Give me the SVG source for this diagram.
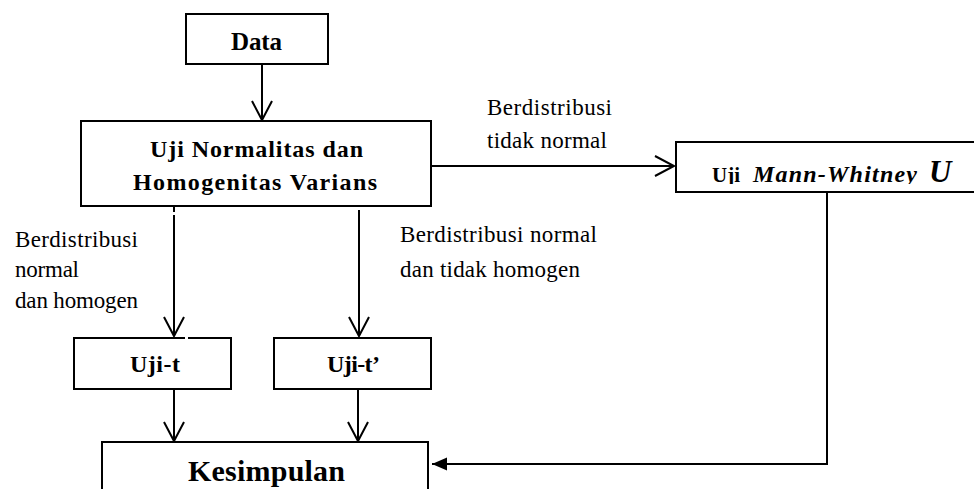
<svg xmlns="http://www.w3.org/2000/svg" width="974" height="489" viewBox="0 0 974 489">
<style>
.box{fill:#fff;stroke:#000;stroke-width:2}
.ln{fill:none;stroke:#000;stroke-width:2}
</style>
<defs>
<marker id="open" markerUnits="userSpaceOnUse" markerWidth="30" markerHeight="30" viewBox="-25 -15 30 30" refX="0" refY="0" orient="auto" overflow="visible">
<path d="M-19,-10 L0,0 L-19,10" fill="none" stroke="#000" stroke-width="2"/>
</marker>
<marker id="fill" markerUnits="userSpaceOnUse" markerWidth="20" markerHeight="20" viewBox="-18 -10 20 20" refX="0" refY="0" orient="auto" overflow="visible">
<path d="M-15,-6.5 L0,0 L-15,6.5 Z" fill="#000"/>
</marker>
<clipPath id="mwclip"><rect x="677" y="143" width="300" height="41"/></clipPath>
</defs>

<g id="connectors">
<line class="ln" x1="262" y1="64" x2="262" y2="120" marker-end="url(#open)"/>
<line class="ln" x1="431" y1="166" x2="674" y2="166" marker-end="url(#open)"/>
<line class="ln" x1="174" y1="207" x2="174" y2="212"/>
<line class="ln" x1="174" y1="215" x2="174" y2="336" marker-end="url(#open)"/>
<line class="ln" x1="359" y1="210" x2="359" y2="336" marker-end="url(#open)"/>
<line class="ln" x1="174" y1="389" x2="174" y2="441" marker-end="url(#open)"/>
<line class="ln" x1="358" y1="389" x2="358" y2="441" marker-end="url(#open)"/>
<polyline class="ln" points="827,192 827,464 432,464" marker-end="url(#fill)"/>
</g>

<g id="labels" fill="#000">
<text font-family="Times New Roman, Liberation Serif, serif" style="font-family:'Times New Roman','Liberation Serif',serif" font-size="23" x="487" y="115" textLength="125" lengthAdjust="spacing">Berdistribusi</text>
<text font-family="Times New Roman, Liberation Serif, serif" style="font-family:'Times New Roman','Liberation Serif',serif" font-size="23" x="487" y="148" textLength="120" lengthAdjust="spacing">tidak normal</text>
<text font-family="Times New Roman, Liberation Serif, serif" style="font-family:'Times New Roman','Liberation Serif',serif" font-size="23" x="15" y="247" textLength="123" lengthAdjust="spacing">Berdistribusi</text>
<text font-family="Times New Roman, Liberation Serif, serif" style="font-family:'Times New Roman','Liberation Serif',serif" font-size="23" x="15" y="277" textLength="64" lengthAdjust="spacing">normal</text>
<text font-family="Times New Roman, Liberation Serif, serif" style="font-family:'Times New Roman','Liberation Serif',serif" font-size="23" x="15" y="308" textLength="123" lengthAdjust="spacing">dan homogen</text>
<text font-family="Times New Roman, Liberation Serif, serif" style="font-family:'Times New Roman','Liberation Serif',serif" font-size="23" x="400" y="242" textLength="197" lengthAdjust="spacing">Berdistribusi normal</text>
<text font-family="Times New Roman, Liberation Serif, serif" style="font-family:'Times New Roman','Liberation Serif',serif" font-size="23" x="400" y="277" textLength="180" lengthAdjust="spacing">dan tidak homogen</text>
</g>

<g id="data">
<rect class="box" x="186" y="14" width="142" height="50"/>
<text font-family="Times New Roman, Liberation Serif, serif" style="font-family:'Times New Roman','Liberation Serif',serif" font-weight="bold" font-size="25" x="231" y="50" textLength="51" lengthAdjust="spacing">Data</text>
</g>

<g id="uji-normalitas">
<rect class="box" x="81" y="121" width="350" height="85"/>
<text font-family="Times New Roman, Liberation Serif, serif" style="font-family:'Times New Roman','Liberation Serif',serif" font-weight="bold" font-size="24" x="150" y="157" textLength="213" lengthAdjust="spacing">Uji Normalitas  dan</text>
<text font-family="Times New Roman, Liberation Serif, serif" style="font-family:'Times New Roman','Liberation Serif',serif" font-weight="bold" font-size="24" x="133" y="190" textLength="244" lengthAdjust="spacing">Homogenitas  Varians</text>
</g>

<g id="mann-whitney">
<path class="box" d="M990,142 H676 V192 H990"/>
<g clip-path="url(#mwclip)">
<text font-family="Times New Roman, Liberation Serif, serif" style="font-family:'Times New Roman','Liberation Serif',serif" font-weight="bold" font-size="21" x="712" y="182">Uji</text>
<text font-family="Times New Roman, Liberation Serif, serif" style="font-family:'Times New Roman','Liberation Serif',serif" font-weight="bold" font-style="italic" font-size="24" x="753" y="182" textLength="164" lengthAdjust="spacing">Mann-Whitney</text>
<text font-family="Times New Roman, Liberation Serif, serif" style="font-family:'Times New Roman','Liberation Serif',serif" font-weight="bold" font-style="italic" font-size="31" x="929" y="182">U</text>
</g>
</g>

<g id="uji-t">
<path class="box" d="M185,338 H74 V389 H231 V338 H188"/>
<text font-family="Times New Roman, Liberation Serif, serif" style="font-family:'Times New Roman','Liberation Serif',serif" font-weight="bold" font-size="24" x="130" y="372" textLength="50" lengthAdjust="spacing">Uji-t</text>
</g>

<g id="uji-t-aksen">
<rect class="box" x="274" y="338" width="157" height="51"/>
<text font-family="Times New Roman, Liberation Serif, serif" style="font-family:'Times New Roman','Liberation Serif',serif" font-weight="bold" font-size="24" x="327" y="372" textLength="53" lengthAdjust="spacing">Uji-t’</text>
</g>

<g id="kesimpulan">
<rect class="box" x="102" y="442" width="326" height="70"/>
<text font-family="Times New Roman, Liberation Serif, serif" style="font-family:'Times New Roman','Liberation Serif',serif" font-weight="bold" font-size="30" x="188" y="481" textLength="157" lengthAdjust="spacing">Kesimpulan</text>
</g>
</svg>
